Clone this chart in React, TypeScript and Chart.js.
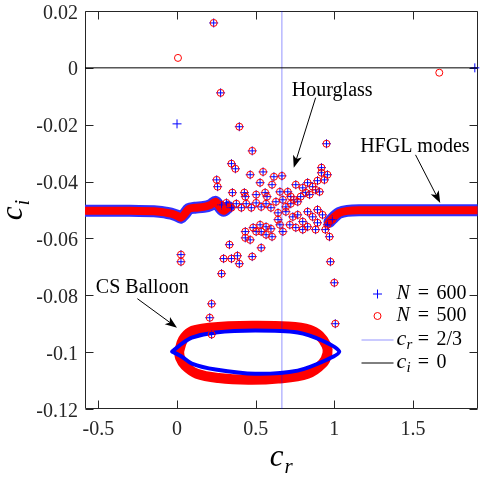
import React, { useEffect, useRef } from "react";
import { Chart, registerables } from "chart.js";
Chart.register(...registerables);

const X_MIN = -0.585;
const X_MAX = 1.91;
const Y_MIN = -0.12;
const Y_MAX = 0.02;
const xTicks = [-0.5, 0, 0.5, 1, 1.5];
const xTickLabels = ["-0.5", "0", "0.5", "1", "1.5"];
const yTicks = [-0.12, -0.1, -0.08, -0.06, -0.04, -0.02, 0, 0.02];
const yTickLabels = ["-0.12", "-0.1", "-0.08", "-0.06", "-0.04", "-0.02", "0", "0.02"];

// Discrete eigenvalues found with both N = 600 and N = 500
const bothCr = [
  0.233, 0.277, 0.396, 0.478, 0.95, 0.346, 0.371, 0.252, 0.258, 0.465, 0.547, 0.616, 0.667, 0.528, 0.604,
  0.352, 0.428, 0.434, 0.503, 0.56, 0.572, 0.654,
  0.918, 0.918, 0.893, 0.862, 0.83, 0.799, 0.755, 0.937, 0.956, 0.881, 0.843, 0.818, 0.786, 0.742, 0.723,
  0.704, 0.673, 0.629, 0.906,
  0.283, 0.314, 0.346, 0.377, 0.409, 0.44, 0.472, 0.503, 0.535, 0.566, 0.597, 0.642, 0.692, 0.723, 0.767,
  0.434, 0.434, 0.465, 0.484, 0.503, 0.528, 0.535, 0.566, 0.597, 0.566, 0.604, 0.642, 0.654, 0.673, 0.692,
  0.717, 0.736, 0.755, 0.767, 0.799, 0.799, 0.83, 0.83, 0.862, 0.881, 0.893, 0.893, 0.925, 0.943, 0.956, 0.987,
  0.969, 0.333, 0.535, 0.025, 0.025, 0.296, 0.346, 0.384, 0.396, 0.478, 0.975, 0.283, 1.0, 0.22, 0.208, 1.006, 0.22,
];
const bothCi = [
  0.0158, -0.0088, -0.0207, -0.0292, -0.0267, -0.0337, -0.0355, -0.0394, -0.0418, -0.0376, -0.0366, -0.0383, -0.038, -0.0404, -0.0411,
  -0.0439, -0.0439, -0.0453, -0.0446, -0.0439, -0.0453, -0.0436,
  -0.0351, -0.0369, -0.0397, -0.0418, -0.0404, -0.0422, -0.0411, -0.0394, -0.0376, -0.0429, -0.0446, -0.0439, -0.0453, -0.0464, -0.0453,
  -0.0436, -0.0464, -0.0471, -0.0436,
  -0.0482, -0.0475, -0.0492, -0.0478, -0.0492, -0.0478, -0.0492, -0.0475, -0.0489, -0.0478, -0.0492, -0.051, -0.0489, -0.0478, -0.0471,
  -0.0576, -0.0598, -0.0605, -0.0562, -0.0576, -0.0552, -0.0576, -0.0559, -0.0566, -0.0587, -0.0594, -0.0534, -0.0552, -0.0576, -0.0506,
  -0.0552, -0.0524, -0.0562, -0.0517, -0.0541, -0.0569, -0.0506, -0.0559, -0.0524, -0.0569, -0.0499, -0.0545, -0.0517, -0.0569, -0.0552, -0.0534,
  -0.0594, -0.0622, -0.0633, -0.0657, -0.0682, -0.0671, -0.0671, -0.0661, -0.0689, -0.0664, -0.0682, -0.0724, -0.0756, -0.083, -0.0879, -0.09, -0.0938,
];
// Only in N = 600
const only600Cr = [0.0, 1.893];
const only600Ci = [-0.0197, 0.0];
// Only in N = 500
const only500Cr = [0.006, 1.667];
const only500Ci = [0.0035, -0.0017];

// HFGL modes: dense branches (traced along their centre)
const hfglLeftCr = [-0.585, -0.302, -0.113, -0.038, 0.0, 0.025, 0.05, 0.075, 0.113, 0.17, 0.214, 0.245, 0.27, 0.296, 0.327];
const hfglLeftCi = [-0.0503, -0.0503, -0.0506, -0.0513, -0.052, -0.0527, -0.0513, -0.0496, -0.0492, -0.0489, -0.0482, -0.0471, -0.0489, -0.0503, -0.0489];
const hfglRightCr = [0.969, 1.0, 1.031, 1.082, 1.157, 1.91];
const hfglRightCi = [-0.0541, -0.0524, -0.051, -0.0503, -0.0501, -0.0501];

// CS balloon (closed loops)
const balloon600Cr = [-0.031, 0.031, 0.094, 0.245, 0.497, 0.767, 0.925, 1.031, 0.956, 0.767, 0.497, 0.245, 0.094, 0.031, -0.031];
const balloon600Ci = [-0.0998, -0.097, -0.0949, -0.0931, -0.0924, -0.0931, -0.096, -0.0998, -0.1026, -0.1065, -0.1076, -0.1061, -0.104, -0.1016, -0.0998];
const balloon500Cr = [0.013, 0.038, 0.088, 0.17, 0.327, 0.497, 0.704, 0.843, 0.906, 0.95, 0.956, 0.925, 0.83, 0.642, 0.453, 0.264, 0.126, 0.05, 0.019, 0.013];
const balloon500Ci = [-0.0998, -0.0956, -0.0928, -0.0917, -0.0909, -0.0907, -0.091, -0.0921, -0.0942, -0.0977, -0.1005, -0.104, -0.1076, -0.1093, -0.1097, -0.1091, -0.1076, -0.1047, -0.1019, -0.0998];

const CR_LINE = 2 / 3;
const CI_LINE = 0;

// annotations (data coordinates)
const annHourglass = { text: "Hourglass", x: 0.73, y: -0.0098, from: [0.881, -0.0105], to: [0.742, -0.0351] };
const annHFGL = { text: "HFGL modes", x: 1.164, y: -0.0295, from: [1.516, -0.0306], to: [1.673, -0.0475] };
const annCS = { text: "CS Balloon", x: -0.516, y: -0.0791, from: [-0.252, -0.0812], to: [0.0, -0.0914] };

const SERIF = "'Liberation Serif', 'Times New Roman', serif";
const BLUE = "#0000ff";
const RED = "#ff0000";
const VLINE = "rgba(0,0,255,0.42)";
const AXIS = "#262626";

const pts = (xs: number[], ys: number[]) => xs.map((x, i) => ({ x, y: ys[i] }));

function drawArrow(ctx: CanvasRenderingContext2D, x1: number, y1: number, x2: number, y2: number) {
  ctx.save();
  ctx.strokeStyle = "#000";
  ctx.fillStyle = "#000";
  ctx.lineWidth = 1;
  const a = Math.atan2(y2 - y1, x2 - x1);
  const L = 12, W = 4.5;
  ctx.beginPath();
  ctx.moveTo(x1, y1);
  ctx.lineTo(x2 - 6 * Math.cos(a), y2 - 6 * Math.sin(a));
  ctx.stroke();
  ctx.beginPath();
  ctx.moveTo(x2, y2);
  ctx.lineTo(x2 - L * Math.cos(a) + W * Math.sin(a), y2 - L * Math.sin(a) - W * Math.cos(a));
  ctx.lineTo(x2 - 0.75 * L * Math.cos(a), y2 - 0.75 * L * Math.sin(a));
  ctx.lineTo(x2 - L * Math.cos(a) - W * Math.sin(a), y2 - L * Math.sin(a) + W * Math.cos(a));
  ctx.closePath();
  ctx.fill();
  ctx.restore();
}

const overlay = {
  id: "overlay",
  beforeDatasetsDraw(chart: any) {
    const { ctx, chartArea: a, scales } = chart;
    const L = Math.round(a.left) + 0.5, R = Math.round(a.right) - 0.5;
    const T = Math.round(a.top) + 0.5, B = Math.round(a.bottom) - 0.5;
    ctx.save();
    ctx.strokeStyle = AXIS;
    ctx.lineWidth = 1;
    ctx.beginPath();
    ctx.rect(L, T, R - L, B - T);
    const tl = 8;
    xTicks.forEach((v) => {
      const px = Math.round(scales.x.getPixelForValue(v)) + 0.5;
      ctx.moveTo(px, B); ctx.lineTo(px, B - tl);
      ctx.moveTo(px, T); ctx.lineTo(px, T + tl);
    });
    yTicks.forEach((v) => {
      const py = Math.round(scales.y.getPixelForValue(v)) + 0.5;
      ctx.moveTo(L, py); ctx.lineTo(L + tl, py);
      ctx.moveTo(R, py); ctx.lineTo(R - tl, py);
    });
    ctx.stroke();
    ctx.restore();
  },
  afterDraw(chart: any) {
    const { ctx, chartArea: a, scales } = chart;
    const sx = (v: number) => scales.x.getPixelForValue(v);
    const sy = (v: number) => scales.y.getPixelForValue(v);
    ctx.save();
    ctx.fillStyle = AXIS;
    ctx.font = `20px ${SERIF}`;
    ctx.textBaseline = "alphabetic";
    ctx.textAlign = "right";
    yTicks.forEach((v, i) => ctx.fillText(yTickLabels[i], a.left - 7, sy(v) + 7.5));
    ctx.textAlign = "center";
    xTicks.forEach((v, i) => ctx.fillText(xTickLabels[i], sx(v), a.bottom + 26));

    // axis titles
    ctx.fillStyle = "#000";
    ctx.textAlign = "left";
    const cx = (a.left + a.right) / 2;
    ctx.font = `italic 31px ${SERIF}`;
    const cw = ctx.measureText("c").width;
    ctx.font = `italic 21px ${SERIF}`;
    const rw = ctx.measureText("r").width;
    const x0 = cx - (cw + rw + 1) / 2;
    ctx.font = `italic 31px ${SERIF}`;
    ctx.fillText("c", x0, a.bottom + 57);
    ctx.font = `italic 21px ${SERIF}`;
    ctx.fillText("r", x0 + cw + 1, a.bottom + 64);

    ctx.save();
    const cy = (a.top + a.bottom) / 2;
    ctx.translate(22, cy);
    ctx.rotate(-Math.PI / 2);
    ctx.font = `italic 21px ${SERIF}`;
    const iw = ctx.measureText("i").width;
    ctx.font = `italic 31px ${SERIF}`;
    const y0 = -(cw + iw + 1) / 2;
    ctx.fillText("c", y0, 0);
    ctx.font = `italic 21px ${SERIF}`;
    ctx.fillText("i", y0 + cw + 1, 7);
    ctx.restore();

    // annotations
    ctx.font = `20px ${SERIF}`;
    ctx.fillStyle = "#000";
    [annHourglass, annHFGL, annCS].forEach((an) => {
      ctx.fillText(an.text, sx(an.x), sy(an.y));
      drawArrow(ctx, sx(an.from[0]), sy(an.from[1]), sx(an.to[0]), sy(an.to[1]));
    });

    // legend
    const lx = a.right - 100; // marker centre x
    const tx = a.right - 81;
    const rows = [a.bottom - 115, a.bottom - 93, a.bottom - 69, a.bottom - 46];
    ctx.save();
    ctx.strokeStyle = BLUE;
    ctx.lineWidth = 1;
    ctx.beginPath();
    ctx.moveTo(lx - 4.5, rows[0]); ctx.lineTo(lx + 4.5, rows[0]);
    ctx.moveTo(lx, rows[0] - 4.5); ctx.lineTo(lx, rows[0] + 4.5);
    ctx.stroke();
    ctx.strokeStyle = RED;
    ctx.beginPath();
    ctx.arc(lx, rows[1], 3.5, 0, Math.PI * 2);
    ctx.stroke();
    ctx.strokeStyle = VLINE;
    ctx.beginPath();
    ctx.moveTo(lx - 16, rows[2]); ctx.lineTo(lx + 16, rows[2]);
    ctx.stroke();
    ctx.strokeStyle = "#000";
    ctx.beginPath();
    ctx.moveTo(lx - 16, rows[3]); ctx.lineTo(lx + 16, rows[3]);
    ctx.stroke();
    ctx.restore();

    const eqX = tx + 27;
    const drawEq = (row: number, val: string) => {
      ctx.font = `20px ${SERIF}`;
      ctx.textAlign = "center";
      ctx.fillText("=", eqX, row + 5);
      ctx.textAlign = "left";
      ctx.fillText(val, eqX + 13, row + 5);
    };
    ctx.fillStyle = "#000";
    ctx.textAlign = "left";
    ctx.font = `italic 20px ${SERIF}`;
    ctx.fillText("N", tx, rows[0] + 5);
    drawEq(rows[0], "600");
    ctx.font = `italic 20px ${SERIF}`;
    ctx.fillText("N", tx, rows[1] + 5);
    drawEq(rows[1], "500");
    ctx.font = `italic 22px ${SERIF}`;
    ctx.fillText("c", tx, rows[2] + 5);
    ctx.font = `italic 15px ${SERIF}`;
    ctx.fillText("r", tx + 10, rows[2] + 9);
    drawEq(rows[2], "2/3");
    ctx.font = `italic 22px ${SERIF}`;
    ctx.fillText("c", tx, rows[3] + 5);
    ctx.font = `italic 15px ${SERIF}`;
    ctx.fillText("i", tx + 10, rows[3] + 9);
    drawEq(rows[3], "0");
    ctx.restore();
  },
};

export default function App() {
  const ref = useRef<HTMLCanvasElement>(null);
  useEffect(() => {
    const canvas = ref.current!;
    const lineDs = (xs: number[], ys: number[], color: string, width: number, order: number, tension = 0) => ({
      data: pts(xs, ys),
      showLine: true,
      borderColor: color,
      backgroundColor: color,
      borderWidth: width,
      pointRadius: 0,
      tension,
      borderJoinStyle: "round" as const,
      borderCapStyle: "round" as const,
      order,
    });
    const chart = new Chart(canvas, {
      type: "scatter",
      data: {
        datasets: [
          lineDs(hfglLeftCr, hfglLeftCi, "#3030ff", 12, 20, 0.3),
          lineDs(hfglRightCr, hfglRightCi, "#3030ff", 12, 20, 0.3),
          lineDs(balloon500Cr, balloon500Ci, RED, 10, 18, 0.35),
          lineDs(balloon600Cr, balloon600Ci, BLUE, 4, 17, 0.3),
          lineDs(hfglLeftCr, hfglLeftCi, RED, 8, 16, 0.3),
          lineDs(hfglRightCr, hfglRightCi, RED, 8, 16, 0.3),
          {
            data: pts([...bothCr, ...only600Cr], [...bothCi, ...only600Ci]),
            pointStyle: "cross",
            pointRadius: 4.5,
            borderColor: BLUE,
            backgroundColor: BLUE,
            borderWidth: 1,
            clip: false,
            order: 15,
          },
          {
            data: pts([...bothCr, ...only500Cr], [...bothCi, ...only500Ci]),
            pointStyle: "circle",
            pointRadius: 3.5,
            borderColor: RED,
            backgroundColor: "rgba(0,0,0,0)",
            borderWidth: 1,
            clip: false,
            order: 14,
          },
          lineDs([CR_LINE, CR_LINE], [Y_MIN, Y_MAX], VLINE, 1, 2),
          lineDs([X_MIN, X_MAX], [CI_LINE, CI_LINE], "#000", 1, 1),
        ] as any,
      },
      options: {
        animation: false,
        responsive: false,
        devicePixelRatio: 1,
        events: [],
        layout: { padding: { top: 11, right: 1, left: 0, bottom: 0 } },
        plugins: { legend: { display: false }, tooltip: { enabled: false } },
        scales: {
          x: {
            type: "linear",
            min: X_MIN,
            max: X_MAX,
            grid: { display: false },
            border: { display: false },
            ticks: { display: false },
            afterFit: (s: any) => { s.height = 69; },
          },
          y: {
            type: "linear",
            min: Y_MIN,
            max: Y_MAX,
            grid: { display: false },
            border: { display: false },
            ticks: { display: false },
            afterFit: (s: any) => { s.width = 85; },
          },
        },
      } as any,
      plugins: [overlay],
    });
    return () => chart.destroy();
  }, []);
  return (
    <div style={{ position: "fixed", left: 0, top: 0, width: 483, height: 478, background: "#fff" }}>
      <canvas ref={ref} width={483} height={478} style={{ display: "block", width: 483, height: 478 }} />
    </div>
  );
}
